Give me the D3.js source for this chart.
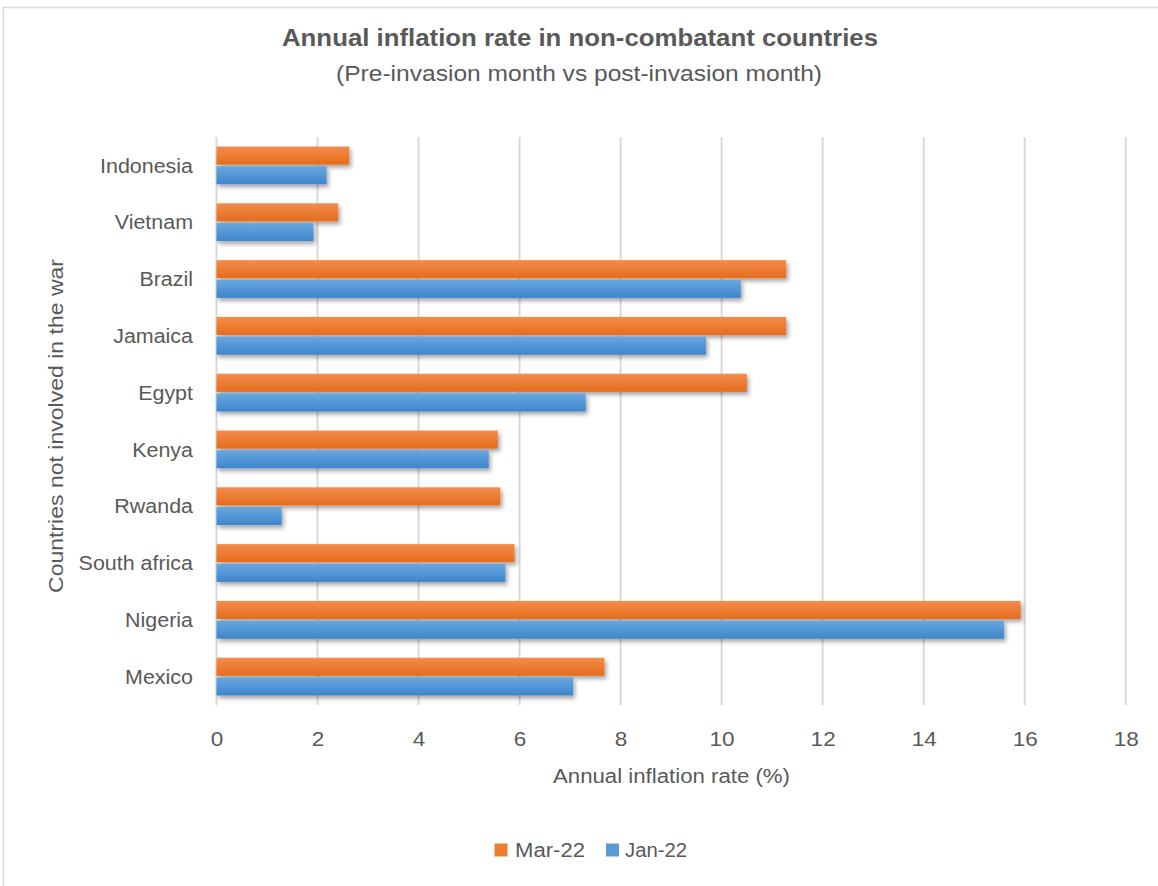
<!DOCTYPE html>
<html>
<head>
<meta charset="utf-8">
<script src="https://cdn.jsdelivr.net/npm/d3@7"></script>
<style>
  html, body { margin: 0; padding: 0; background: #fff; }
  svg { display: block; }
  text { font-family: "Liberation Sans Narrow", "Arial Narrow", "Liberation Sans", sans-serif; fill: #595959; }
</style>
</head>
<body>
<svg id="chart" width="1158" height="886"></svg>
<script>
// ---- data ----
const categories = ["Indonesia", "Vietnam", "Brazil", "Jamaica", "Egypt", "Kenya", "Rwanda", "South africa", "Nigeria", "Mexico"];
const seriesNames = ["Mar-22", "Jan-22"];
const mar22 = [2.63, 2.41, 11.28, 11.28, 10.5, 5.57, 5.62, 5.9, 15.92, 7.68];
const jan22 = [2.18, 1.92, 10.38, 9.69, 7.31, 5.39, 1.29, 5.72, 15.59, 7.06];
const xTicks = [0, 2, 4, 6, 8, 10, 12, 14, 16, 18];
const titleText = "Annual inflation rate in non-combatant countries";
const subtitleText = "(Pre-invasion month vs post-invasion month)";
const xTitle = "Annual inflation rate (%)";
const yTitle = "Countries not involved in the war";

const seriesValues = { "Mar-22": mar22, "Jan-22": jan22 };
const colors = { "Mar-22": ["#F48C4C", "#E56C1C"], "Jan-22": ["#69A8E0", "#3D85CB"] };
const legendColors = { "Mar-22": "#ED7D31", "Jan-22": "#5B9BD5" };

const svg = d3.select("#chart");
const defs = svg.append("defs");

// gradients
seriesNames.forEach((s, i) => {
  const g = defs.append("linearGradient").attr("id", "grad" + i)
    .attr("x1", 0).attr("y1", 0).attr("x2", 0).attr("y2", 1);
  g.append("stop").attr("offset", "0%").attr("stop-color", colors[s][0]);
  g.append("stop").attr("offset", "100%").attr("stop-color", colors[s][1]);
});
const f = defs.append("filter").attr("id", "shadow")
  .attr("x", "-5%").attr("y", "-30%").attr("width", "115%").attr("height", "180%");
f.append("feDropShadow").attr("dx", 2).attr("dy", 3).attr("stdDeviation", 2)
  .attr("flood-color", "#000").attr("flood-opacity", 0.35);

// outer border (top and left visible)
svg.append("rect").attr("x", 3.5).attr("y", 7.5).attr("width", 1170).attr("height", 900)
  .attr("fill", "none").attr("stroke", "#d9d9d9").attr("stroke-width", 1.5);

// helper: fit text to a target width
function fit(sel, w) {
  sel.attr("textLength", w).attr("lengthAdjust", "spacingAndGlyphs");
}

// scales
const x = d3.scaleLinear().domain([0, 18]).range([216.5, 1125.7]);
const y = d3.scaleBand().domain(categories).range([137, 705]).paddingInner(0.335).paddingOuter(0.1675);
const ySub = d3.scaleBand().domain(seriesNames).range([0, y.bandwidth()]).paddingInner(0.08);

// gridlines
svg.append("g").selectAll("line").data(xTicks).join("line")
  .attr("x1", d => x(d)).attr("x2", d => x(d))
  .attr("y1", 137).attr("y2", 705)
  .attr("stroke", "#d9d9d9").attr("stroke-width", 2);

// bars
seriesNames.forEach((s, i) => {
  svg.append("g").attr("filter", "url(#shadow)")
    .selectAll("rect").data(categories.map((c, k) => ({ c, v: seriesValues[s][k] })))
    .join("rect")
    .attr("x", x(0))
    .attr("y", d => y(d.c) + ySub(s))
    .attr("width", d => x(d.v) - x(0))
    .attr("height", ySub.bandwidth())
    .attr("fill", "url(#grad" + i + ")");
});

// x axis tick labels
const xAxis = d3.axisBottom(x).tickValues(xTicks).tickSize(0).tickPadding(0).tickFormat(d3.format("d"));
const xg = svg.append("g").attr("transform", "translate(0,731)").call(xAxis);
xg.select(".domain").remove();
xg.selectAll("text").attr("font-size", 21).style("fill", "#595959")
  .attr("font-family", "Liberation Sans Narrow, Arial Narrow, sans-serif").attr("dy", "0.71em");

// y axis labels
const yAxis = d3.axisLeft(y).tickSize(0).tickPadding(0);
const yg = svg.append("g").attr("transform", "translate(193,0)").call(yAxis);
yg.select(".domain").remove();
yg.selectAll("text").attr("font-size", 20).style("fill", "#595959")
  .attr("font-family", "Liberation Sans Narrow, Arial Narrow, sans-serif").attr("dy", "0.36em");
// stretch category labels to the Calibri-like widths
const refNode = yg.selectAll("text").filter(d => d === "Indonesia").node();
const scaleK = 93 / refNode.getComputedTextLength();
yg.selectAll("text").each(function () {
  const w = this.getComputedTextLength();
  fit(d3.select(this), w * scaleK);
});
xg.selectAll("text").each(function () {
  const w = this.getComputedTextLength();
  fit(d3.select(this), w * scaleK);
});

// titles
svg.append("text").attr("x", 580).attr("y", 46).attr("text-anchor", "middle")
  .attr("font-size", 24).attr("font-weight", "bold").text(titleText).call(fit, 596);
svg.append("text").attr("x", 579).attr("y", 81).attr("text-anchor", "middle")
  .attr("font-size", 22).text(subtitleText).call(fit, 486);
svg.append("text").attr("x", 671.5).attr("y", 783).attr("text-anchor", "middle")
  .attr("font-size", 20).text(xTitle).call(fit, 237);
svg.append("text").attr("transform", "translate(63,426) rotate(-90)").attr("text-anchor", "middle")
  .attr("font-size", 20).text(yTitle).call(fit, 334);

// legend
const legendItems = [
  { s: "Mar-22", sx: 494.5, tx: 515, tw: 70 },
  { s: "Jan-22", sx: 606, tx: 625, tw: 62 }
];
const lg = svg.append("g");
legendItems.forEach(it => {
  lg.append("rect").attr("x", it.sx).attr("y", 843.5).attr("width", 13).attr("height", 13)
    .attr("fill", legendColors[it.s]);
  lg.append("text").attr("x", it.tx).attr("y", 857).attr("font-size", 20).text(it.s).call(fit, it.tw);
});
</script>
</body>
</html>
